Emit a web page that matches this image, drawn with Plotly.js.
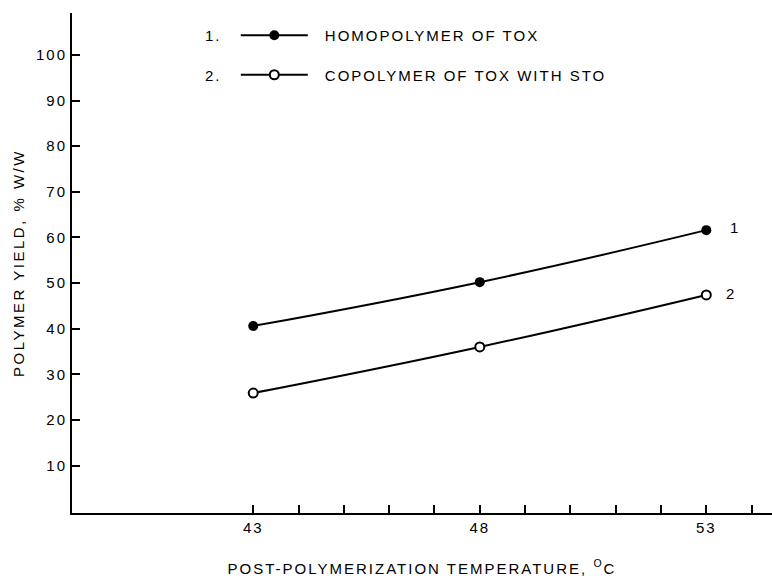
<!DOCTYPE html>
<html>
<head>
<meta charset="utf-8">
<script src="https://cdn.plot.ly/plotly-3.0.1.min.js"></script>
<style>
html, body { margin: 0; padding: 0; background: #fff; }
#chart { width: 772px; height: 579px; }
#chart svg text { letter-spacing: 2px; }
#chart svg .ytitle { letter-spacing: 2.5px; }
#chart svg .legendtext { transform: translate(12px, 0); }
#chart svg .legend .scrollbox, #chart svg .legend { clip-path: none; }
</style>
</head>
<body>
<div id="chart"></div>
<script>
// ---- data ----
const temperatures = [43, 48, 53];
const homopolymerYield = [40.6, 50.2, 61.6];
const copolymerYield = [25.9, 36.0, 47.4];
const seriesNames = ['HOMOPOLYMER OF TOX', 'COPOLYMER OF TOX WITH STO'];
const seriesNumbers = ['1', '2'];
const xTickValues = [43, 48, 53];
const xTickLabels = ['43', '48', '53'];
const xMinorTickValues = [44, 45, 46, 47, 49, 50, 51, 52, 54];
const yTickValues = [10, 20, 30, 40, 50, 60, 70, 80, 90, 100];
const yTickLabels = ['10', '20', '30', '40', '50', '60', '70', '80', '90', '100'];

const FONT = 'Liberation Sans, Arial, sans-serif';
const FS = 15;

const traces = [
  {
    x: temperatures, y: homopolymerYield, name: seriesNames[0],
    type: 'scatter', mode: 'lines+markers', legendgroup: 'a',
    line: {color: '#000', width: 2, shape: 'spline', smoothing: 1.3},
    marker: {color: '#000', size: 10, symbol: 'circle', line: {color: '#000', width: 0}}
  },
  {
    x: temperatures, y: copolymerYield, name: seriesNames[1],
    type: 'scatter', mode: 'lines+markers', legendgroup: 'b',
    line: {color: '#000', width: 2, shape: 'spline', smoothing: 1.3},
    marker: {color: '#fff', size: 9, symbol: 'circle', line: {color: '#000', width: 2}}
  }
];

const annotations = [
  {xref: 'paper', yref: 'paper', x: (213 - 72) / 700, y: (513 - 35) / 500, xanchor: 'center', yanchor: 'middle',
   text: seriesNumbers[0] + '.', showarrow: false, font: {family: FONT, size: FS, color: '#000'}},
  {xref: 'paper', yref: 'paper', x: (213 - 72) / 700, y: (513 - 75) / 500, xanchor: 'center', yanchor: 'middle',
   text: seriesNumbers[1] + '.', showarrow: false, font: {family: FONT, size: FS, color: '#000'}},
  {x: temperatures[temperatures.length - 1], y: homopolymerYield[homopolymerYield.length - 1],
   text: seriesNumbers[0], showarrow: false, xanchor: 'left', yanchor: 'middle', xshift: 23, yshift: 3,
   font: {family: FONT, size: FS, color: '#000'}},
  {x: temperatures[temperatures.length - 1], y: copolymerYield[copolymerYield.length - 1],
   text: seriesNumbers[1], showarrow: false, xanchor: 'left', yanchor: 'middle', xshift: 19, yshift: 1,
   font: {family: FONT, size: FS, color: '#000'}}
];

const layout = {
  width: 772, height: 579,
  margin: {l: 72, r: 0, t: 13, b: 66, pad: 0},
  paper_bgcolor: '#fff', plot_bgcolor: '#fff',
  font: {family: FONT, size: FS, color: '#000'},
  showlegend: true,
  legend: {
    x: 0.234, y: 0.988, xanchor: 'left', yanchor: 'top',
    bgcolor: 'rgba(0,0,0,0)', borderwidth: 0,
    itemwidth: 67, tracegroupgap: 17,
    font: {family: FONT, size: FS, color: '#000'}
  },
  xaxis: {
    range: [39.0, 54.45],
    tickmode: 'array', tickvals: xTickValues, ticktext: xTickLabels,
    ticks: 'inside', ticklen: 8, tickwidth: 2, tickcolor: '#000',
    minor: {tickmode: 'array', tickvals: xMinorTickValues, ticks: 'inside', ticklen: 8, tickwidth: 2, tickcolor: '#000', showgrid: false},
    showline: true, linecolor: '#000', linewidth: 2,
    showgrid: false, zeroline: false,
    tickfont: {family: FONT, size: FS, color: '#000'},
    title: {text: 'POST-POLYMERIZATION TEMPERATURE, <sup>O</sup>C', standoff: 28,
            font: {family: FONT, size: FS, color: '#000'}}
  },
  yaxis: {
    range: [-0.4, 109.2],
    tickmode: 'array', tickvals: yTickValues, ticktext: yTickLabels,
    ticks: 'inside', ticklen: 8, tickwidth: 2, tickcolor: '#000',
    showline: true, linecolor: '#000', linewidth: 2,
    showgrid: false, zeroline: false,
    tickfont: {family: FONT, size: FS, color: '#000'},
    title: {text: 'POLYMER YIELD, % W/W', standoff: 14,
            font: {family: FONT, size: FS, color: '#000'}}
  },
  annotations: annotations
};

Plotly.newPlot('chart', traces, layout, {displayModeBar: false, staticPlot: true});
</script>
</body>
</html>
